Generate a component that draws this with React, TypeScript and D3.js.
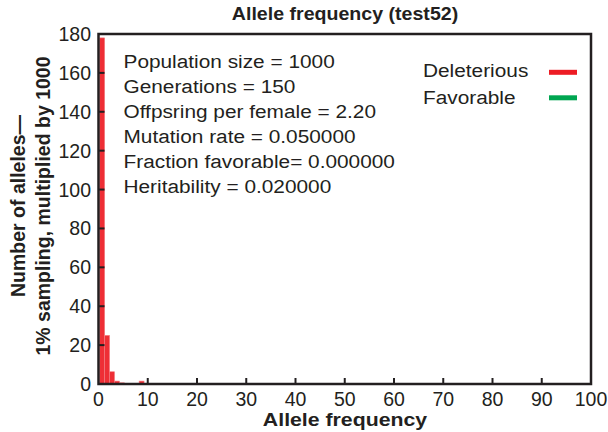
import React from "react";
import * as d3 from "d3";

// histogram bins (left edge of each bin, width 1) and their counts
const binStarts = [0.25, 1.25, 2.25, 3.25, 4.25, 8.25];
const deleterious = [178, 25, 6.3, 1.5, 0.6, 1.5];
const favorable: number[] = []; // nothing favorable in this run

const xTicks = [0, 10, 20, 30, 40, 50, 60, 70, 80, 90, 100];
const yTicks = [0, 20, 40, 60, 80, 100, 120, 140, 160, 180];

const notes = [
  "Population size = 1000",
  "Generations = 150",
  "Offpsring per female = 2.20",
  "Mutation rate = 0.050000",
  "Fraction favorable= 0.000000",
  "Heritability = 0.020000",
];
const legendNames = ["Deleterious", "Favorable"];
const legendColors = ["#ed1c24", "#00a651"];

const W = 608;
const H = 432;
const FONT = "'Liberation Sans', Arial, Helvetica, sans-serif";
const INK = "#231f20";

// the original text is a bit wider than its height suggests
function Wide(props: { x: number; y: number; size: number; bold?: boolean; anchor?: string; children: React.ReactNode }) {
  return (
    <g transform={`translate(${props.x},${props.y}) scale(1.12,1)`}>
      <text
        fontSize={props.size}
        fontWeight={props.bold ? "bold" : "normal"}
        textAnchor={props.anchor || "start"}
        fill={INK}
      >
        {props.children}
      </text>
    </g>
  );
}

export default function App() {
  const x = d3.scaleLinear().domain([0, 100]).range([98.5, 591]);
  const y = d3.scaleLinear().domain([0, 180]).range([384, 34]);

  const bars = binStarts.map((b, i) => ({ x0: b, x1: b + 1, v: deleterious[i] }));
  const favBars = favorable.map((v, i) => ({ x0: binStarts[i], x1: binStarts[i] + 1, v }));

  return (
    <svg
      width={W}
      height={H}
      style={{ position: "absolute", left: 0, top: 0, background: "#fff" }}
      fontFamily={FONT}
    >
      {/* title */}
      <Wide x={345} y={20} size={17.5} bold anchor="middle">
        Allele frequency (test52)
      </Wide>

      {/* bars */}
      {bars.map((d, i) => (
        <rect
          key={i}
          x={x(d.x0)}
          y={y(d.v)}
          width={x(d.x1) - x(d.x0)}
          height={y(0) - y(d.v)}
          fill={legendColors[0]}
          fillOpacity={0.92}
          stroke="#f47c80"
          strokeWidth={0.6}
        />
      ))}
      {favBars.map((d, i) => (
        <rect
          key={"f" + i}
          x={x(d.x0)}
          y={y(d.v)}
          width={x(d.x1) - x(d.x0)}
          height={y(0) - y(d.v)}
          fill={legendColors[1]}
        />
      ))}

      {/* frame */}
      <rect
        x={x(0)}
        y={y(180)}
        width={x(100) - x(0)}
        height={y(0) - y(180)}
        fill="none"
        stroke={INK}
        strokeWidth={2.5}
      />

      {/* x ticks, drawn inward */}
      {xTicks.map((t) => (
        <g key={"x" + t}>
          {t > 0 && t < 100 && (
            <line x1={x(t)} x2={x(t)} y1={y(0)} y2={y(0) - 6} stroke={INK} strokeWidth={2} />
          )}
          <text x={x(t)} y={406} textAnchor="middle" fontSize={19.5} fill={INK}>
            {t}
          </text>
        </g>
      ))}

      {/* y ticks, drawn inward */}
      {yTicks.map((t) => (
        <g key={"y" + t}>
          {t > 0 && t < 180 && (
            <line x1={x(0)} x2={x(0) + 6} y1={y(t)} y2={y(t)} stroke={INK} strokeWidth={2} />
          )}
          <text x={91} y={y(t) + 7} textAnchor="end" fontSize={19.5} fill={INK}>
            {t}
          </text>
        </g>
      ))}

      {/* axis titles */}
      <Wide x={345} y={426} size={19} bold anchor="middle">
        Allele frequency
      </Wide>
      <g transform="translate(25,206) rotate(-90)">
        <text textAnchor="middle" fontSize={19.5} fontWeight="bold" fill={INK}>
          Number of alleles—
        </text>
        <text y={25} textAnchor="middle" fontSize={19.5} fontWeight="bold" fill={INK}>
          1% sampling, multiplied by 1000
        </text>
      </g>

      {/* run parameters */}
      {notes.map((n, i) => (
        <Wide key={n} x={123.5} y={68 + i * 25} size={18.6}>
          {n}
        </Wide>
      ))}

      {/* legend */}
      {legendNames.map((n, i) => (
        <g key={n}>
          <Wide x={423} y={77 + i * 26.5} size={18.6}>
            {n}
          </Wide>
          <line
            x1={549}
            x2={577}
            y1={72.3 + i * 25.5}
            y2={72.3 + i * 25.5}
            stroke={legendColors[i]}
            strokeWidth={5}
          />
        </g>
      ))}
    </svg>
  );
}
